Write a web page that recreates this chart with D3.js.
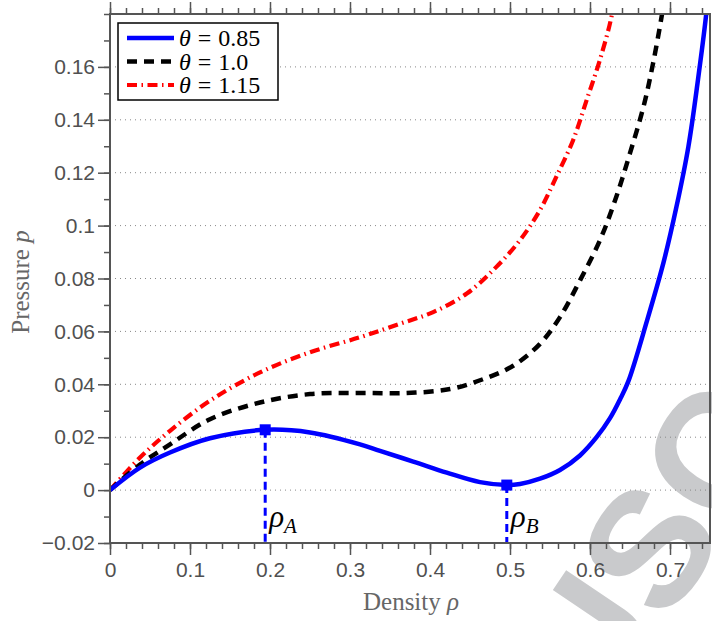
<!DOCTYPE html>
<html>
<head>
<meta charset="utf-8">
<script src="https://cdn.jsdelivr.net/npm/d3@7"></script>
<style>
  html, body { margin: 0; padding: 0; background: #fff; }
  svg { display: block; }
</style>
</head>
<body>
<div id="chart"></div>
<script>
// ---- data ----
const thetaValues = ["0.85", "1.0", "1.15"];

const blueRho = [0, 0.0375, 0.075, 0.125, 0.194, 0.25, 0.3125, 0.3375, 0.379, 0.421, 0.4625, 0.496, 0.5125, 0.5375, 0.5625, 0.5875, 0.608, 0.625, 0.6375, 0.648, 0.671, 0.692, 0.708, 0.723, 0.735, 0.745, 0.75];
const blueP   = [0, 0.0085, 0.0142, 0.0196, 0.0228, 0.0218, 0.0173, 0.0148, 0.0108, 0.0066, 0.0030, 0.0019, 0.0023, 0.0043, 0.0076, 0.0131, 0.0199, 0.0272, 0.0343, 0.0412, 0.0638, 0.0862, 0.107, 0.1299, 0.1552, 0.1792, 0.195];

const blackRho = [0, 0.0375, 0.075, 0.125, 0.1875, 0.25, 0.3125, 0.371, 0.425, 0.467, 0.504, 0.5375, 0.5625, 0.5875, 0.6125, 0.633, 0.65, 0.667, 0.679, 0.6896, 0.695];
const blackP   = [0, 0.0097, 0.0173, 0.0268, 0.0331, 0.0363, 0.0367, 0.0367, 0.0382, 0.042, 0.047, 0.0553, 0.0654, 0.0793, 0.0945, 0.111, 0.1274, 0.1451, 0.1616, 0.1792, 0.19];

const redRho = [0, 0.0375, 0.075, 0.125, 0.1875, 0.25, 0.3125, 0.3625, 0.404, 0.446, 0.483, 0.5125, 0.5375, 0.558, 0.579, 0.596, 0.6125, 0.627, 0.632];
const redP   = [0, 0.0123, 0.0224, 0.0338, 0.0445, 0.0521, 0.0578, 0.0629, 0.0673, 0.0743, 0.0844, 0.0945, 0.1059, 0.1185, 0.1324, 0.1476, 0.1628, 0.1792, 0.19];

const markerRho = [0.194, 0.496];
const markerP   = [0.0228, 0.0019];
const markerNames = ["A", "B"];

const xTicks = [0, 0.1, 0.2, 0.3, 0.4, 0.5, 0.6, 0.7];
const xTickLabels = ["0", "0.1", "0.2", "0.3", "0.4", "0.5", "0.6", "0.7"];
const yTicks = [-0.02, 0, 0.02, 0.04, 0.06, 0.08, 0.1, 0.12, 0.14, 0.16];
const yTickLabels = ["\u22120.02", "0", "0.02", "0.04", "0.06", "0.08", "0.1", "0.12", "0.14", "0.16"];
const xMinorTicks = d3.range(0, 0.751, 0.02).map(v => +v.toFixed(2));
const yMinorTicks = d3.range(-0.02, 0.181, 0.01).map(v => +v.toFixed(2));

// ---- layout ----
const W = 712, H = 621;
const L = 110, R = 710, T = 14, B = 543;
const axisCol = "#555";
const serif = "'Liberation Serif', 'Times New Roman', serif";
const sans = "'Liberation Sans', Arial, Helvetica, sans-serif";

const svg = d3.select("#chart").append("svg").attr("width", W).attr("height", H);

const x = d3.scaleLinear().domain([0, 0.75]).range([L, R]);
const y = d3.scaleLinear().domain([-0.02, 0.18]).range([B, T]);

// watermark (behind everything)
svg.append("text")
  .attr("transform", "translate(614,596) rotate(-56)")
  .attr("text-anchor", "middle")
  .attr("dy", "0.36em")
  .attr("font-family", sans)
  .attr("font-weight", "bold")
  .attr("font-size", 165)
  .attr("fill", "#c9cacc")
  .text("NUSC");

// gridlines
svg.append("g").selectAll("line").data(yTicks).join("line")
  .attr("x1", L).attr("x2", R)
  .attr("y1", d => y(d)).attr("y2", d => y(d))
  .attr("stroke", "#888").attr("stroke-width", 1)
  .attr("stroke-dasharray", "1,4");

// curves
const defs = svg.append("defs");
defs.append("clipPath").attr("id", "plotclip")
  .append("rect").attr("x", L).attr("y", T).attr("width", R - L).attr("height", B - T);

const line = d3.line().x(d => x(d[0])).y(d => y(d[1])).curve(d3.curveCatmullRom.alpha(0.5));
const series = [
  { rho: redRho, p: redP, color: "#ff0000", dash: "10,4.5,1.5,4.5", width: 4.2 },
  { rho: blackRho, p: blackP, color: "#000", dash: "10,7", width: 4.5 },
  { rho: blueRho, p: blueP, color: "#0000ff", dash: null, width: 4.5 }
];
const plot = svg.append("g").attr("clip-path", "url(#plotclip)");
series.forEach(s => {
  plot.append("path")
    .datum(s.rho.map((r, i) => [r, s.p[i]]))
    .attr("d", line)
    .attr("fill", "none")
    .attr("stroke", s.color)
    .attr("stroke-width", s.width)
    .attr("stroke-dasharray", s.dash)
    .attr("stroke-linejoin", "round");
});

// markers with dashed drop lines
markerRho.forEach((r, i) => {
  svg.append("line")
    .attr("x1", x(r)).attr("x2", x(r))
    .attr("y1", y(markerP[i])).attr("y2", B)
    .attr("stroke", "#0000ff").attr("stroke-width", 3)
    .attr("stroke-dasharray", "8,5");
  svg.append("rect")
    .attr("x", x(r) - 5.5).attr("y", y(markerP[i]) - 5.5)
    .attr("width", 11).attr("height", 11)
    .attr("fill", "#0000ff");
  const t = svg.append("text")
    .attr("x", x(r) + 4).attr("y", 527)
    .attr("font-family", serif)
    .attr("font-style", "italic")
    .attr("font-size", 31)
    .attr("fill", "#000");
  t.append("tspan").text("ρ");
  t.append("tspan").attr("font-size", 21).attr("dy", 6).attr("dx", 0).text(markerNames[i]);
});

// axes frame
svg.append("rect").attr("x", L).attr("y", T).attr("width", R - L).attr("height", B - T)
  .attr("fill", "none").attr("stroke", axisCol).attr("stroke-width", 2);

const xAxisB = d3.axisBottom(x).tickValues(xTicks).tickSize(12).tickFormat((d, i) => xTickLabels[i]);
const xAxisBm = d3.axisBottom(x).tickValues(xMinorTicks).tickSize(6).tickFormat("");
const xAxisT = d3.axisTop(x).tickValues(xTicks).tickSize(12).tickFormat("");
const xAxisTm = d3.axisTop(x).tickValues(xMinorTicks).tickSize(6).tickFormat("");
const yAxisL = d3.axisLeft(y).tickValues(yTicks).tickSize(12).tickFormat((d, i) => yTickLabels[i]);
const yAxisLm = d3.axisLeft(y).tickValues(yMinorTicks).tickSize(6).tickFormat("");

function styleAxis(g) {
  g.select(".domain").remove();
  g.selectAll(".tick line").attr("stroke", axisCol).attr("stroke-width", 1.5);
  g.selectAll(".tick text")
    .attr("fill", "#505050")
    .attr("font-family", sans)
    .attr("font-size", 21);
}
svg.append("g").attr("transform", `translate(0,${B})`).call(xAxisBm).call(styleAxis);
svg.append("g").attr("transform", `translate(0,${B})`).call(xAxisB).call(styleAxis)
  .selectAll(".tick text").attr("dy", "0.95em").attr("y", 14);
svg.append("g").attr("transform", `translate(0,${T})`).call(xAxisTm).call(styleAxis);
svg.append("g").attr("transform", `translate(0,${T})`).call(xAxisT).call(styleAxis);
svg.append("g").attr("transform", `translate(${L},0)`).call(yAxisLm).call(styleAxis);
svg.append("g").attr("transform", `translate(${L},0)`).call(yAxisL).call(styleAxis)
  .selectAll(".tick text").attr("x", -15);

// axis titles
svg.append("text")
  .attr("x", 411).attr("y", 610)
  .attr("text-anchor", "middle")
  .attr("font-family", serif)
  .attr("font-size", 25)
  .attr("fill", "#666")
  .call(t => { t.append("tspan").text("Density "); t.append("tspan").attr("font-style", "italic").text("ρ"); });

svg.append("text")
  .attr("transform", "translate(29,282) rotate(-90)")
  .attr("text-anchor", "middle")
  .attr("font-family", serif)
  .attr("font-size", 25)
  .attr("fill", "#666")
  .call(t => { t.append("tspan").text("Pressure "); t.append("tspan").attr("font-style", "italic").text("p"); });

// legend
const lg = svg.append("g");
lg.append("rect").attr("x", 118).attr("y", 23).attr("width", 160).attr("height", 77)
  .attr("fill", "#fff").attr("stroke", "#000").attr("stroke-width", 1.5);
const legendSeries = [series[2], series[1], series[0]];
legendSeries.forEach((s, i) => {
  const yy = 38 + i * 23.5;
  lg.append("line").attr("x1", 127).attr("x2", 174).attr("y1", yy).attr("y2", yy)
    .attr("stroke", s.color).attr("stroke-width", s.width)
    .attr("stroke-dasharray", s.dash);
  const t = lg.append("text").attr("x", 179).attr("y", yy + 8)
    .attr("font-family", serif)
    .attr("font-size", 24).attr("fill", "#000");
  t.append("tspan").attr("font-style", "italic").text("θ");
  t.append("tspan").attr("dx", 7).text("=");
  t.append("tspan").attr("dx", 7).text(thetaValues[i]);
});
</script>
</body>
</html>
